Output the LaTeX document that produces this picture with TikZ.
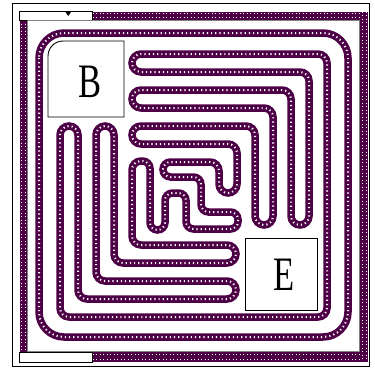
\documentclass[tikz,border=0pt]{standalone}
\usepackage{fontspec}
\setmainfont{Liberation Serif}
\definecolor{pipecol}{RGB}{78,0,70}
\begin{document}
\begin{tikzpicture}[x=1pt, y=-1pt,
    pipe/.style={draw=pipecol, line width=7.5pt, rounded corners=9pt,
        postaction={draw=white, line width=2pt, dash pattern=on 1.2pt off 3pt}},
    wall/.style={fill=pipecol},
    gap/.style={draw=black, line width=0.8pt, fill=white},
    box/.style={draw=black, line width=0.9pt, fill=white},
    lbl/.style={font=\fontsize{48}{48}\selectfont, inner sep=0pt}
]
    \useasboundingbox (0,0) rectangle (375,370);
    % outer frame and wall
    \draw[line width=1pt] (12,3) rectangle (369.5,366.5);
    \fill[wall] (19.5,20) rectangle (27.5,352);
    \fill[wall] (92.5,11.5) rectangle (368,20);
    \fill[wall] (360,11.5) rectangle (368,362);
    \fill[wall] (92.5,352) rectangle (368,362);
    \foreach \xa/\ya/\xb/\yb in {21.5/20/21.5/352, 25.5/20/25.5/352,
        92.5/13.5/360/13.5, 92.5/17.5/360/17.5, 362/11.5/362/362, 366/11.5/366/362,
        92.5/354.5/360/354.5, 92.5/359/360/359} {
        \draw[white, line width=1pt, dash pattern=on 1pt off 2.5pt] (\xa,\ya) -- (\xb,\yb);
    }
    \draw[gap] (19.5,11.5) rectangle (92.5,20);
    \draw[gap] (19.5,352) rectangle (92.5,362);
    \draw[gray, line width=0.7pt] (27.5,20.5) rectangle (359.5,351.5);
    \fill (65.5,12) -- (71,12) -- (68.2,16) -- cycle;

    % pipes
    \draw[pipe, rounded corners=25pt] (39,33) rectangle (348,337);
    \draw[pipe] (200,317) -- (327,317) -- (327,54) -- (132,54) -- (132,72)
        -- (309,72) -- (309,225) -- (291,225) -- (291,90) -- (132,90) -- (132,108)
        -- (273,108) -- (273,225) -- (255,225) -- (255,126) -- (132,126) -- (132,144)
        -- (237,144) -- (237,193) -- (219,193) -- (219,162) [rounded corners=7.5pt] -- (163,162) -- (163,177)
        -- (201,177) -- (201,212) -- (238,212) -- (238,229) -- (186,229) -- (186,193)
        -- (165,193) -- (165,230) -- (150,230) -- (150,161) [rounded corners=9pt] -- (132,161) -- (132,245)
        -- (236,245) -- (236,263) -- (114,263) -- (114,126) -- (96,126) -- (96,281)
        -- (236,281) -- (236,299) -- (78,299) -- (78,126) -- (60,126) -- (60,317)
        -- cycle;

    % boxes
    \draw[box] (48,117) [rounded corners=15pt] -- (48,41) [sharp corners] -- (124,41) -- (124,117) -- cycle;
    \draw[box] (245,238) rectangle (317,310);
    \node[lbl] (txtB) at (90.5,82) {\scalebox{.72}[1]{B}};
    \node[lbl] (txtE) at (284,275) {\scalebox{.72}[1]{E}};
\end{tikzpicture}
\end{document}
